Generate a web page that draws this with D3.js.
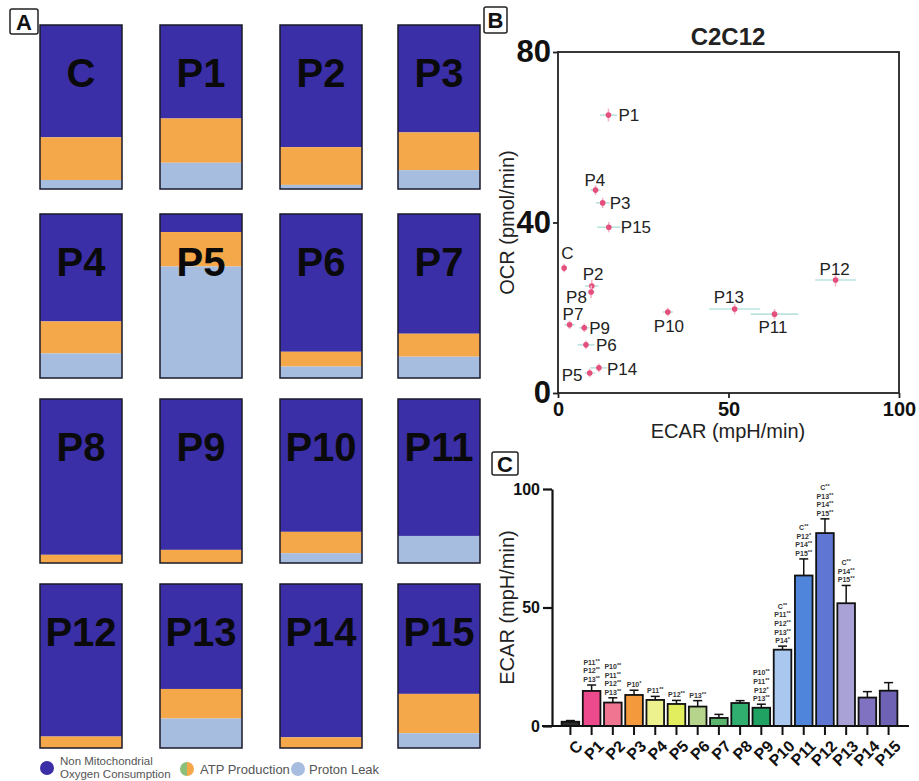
<!DOCTYPE html>
<html><head><meta charset="utf-8">
<script src="https://cdn.jsdelivr.net/npm/d3@7"></script>
<style>
body{margin:0;background:#fff;}
svg{display:block;font-family:"Liberation Sans",Arial,Helvetica,sans-serif;}
</style>
</head><body>
<svg id="fig" width="919" height="781"></svg>
<script>
// ---------- DATA ----------
const groups = ["C","P1","P2","P3","P4","P5","P6","P7","P8","P9","P10","P11","P12","P13","P14","P15"];
// Panel A: % of OCR
const nonMito    = [68.5, 57, 74.5, 65.5, 65.5, 11, 84, 73, 95, 92, 81, 83.5, 93, 64, 93.5, 67];
const atpProd    = [26, 27, 23, 23, 19.5, 21, 9, 14, 5, 8, 13, 0, 7, 18, 6.5, 24];
const protonLeak = [5.5, 16, 2.5, 11.5, 15, 68, 7, 13, 0, 0, 6, 16.5, 0, 18, 0, 9];
// Panel B / C
const ecarMean = [1.8, 14.8, 9.9, 13.1, 11.0, 9.3, 8.2, 3.4, 9.7, 7.7, 32.2, 63.5, 81.4, 51.8, 12.0, 14.9];
const ecarErr  = [0.5, 2.5, 2.0, 2.0, 1.5, 1.5, 2.5, 1.5, 1.0, 1.5, 1.5, 7.0, 6.0, 7.5, 2.5, 3.4];
const ocrMean  = [29.3, 65.2, 25.1, 44.6, 47.6, 4.7, 11.3, 16.0, 23.7, 15.3, 19.0, 18.5, 26.5, 19.7, 5.9, 38.9];
const ocrErr   = [1.0, 1.5, 1.5, 1.2, 1.2, 1.0, 1.0, 1.0, 1.5, 1.0, 1.0, 1.2, 1.5, 1.2, 1.0, 1.2];
const sigLabels = [[], ["P11**","P12**","P13**"], ["P10**","P11**","P12**","P13**"], ["P10*"], ["P11**"], ["P12**"], ["P13**"], [], [],
  ["P10**","P11**","P12*","P13**"], ["C**","P11**","P12**","P13**","P14*"], ["C**","P12*","P14**","P15**"],
  ["C**","P13**","P14**","P15**"], ["C**","P14**","P15**"], [], []];
const scatterXTicks = [0, 50, 100];
const scatterYTicks = [0, 40, 80];
const barYTicks = [0, 50, 100];
const legendItems = [["Non Mitochondrial","Oxygen Consumption"], ["ATP Production"], ["Proton Leak"]];

// ---------- STYLE / LAYOUT ----------
const colNon = "#3a2fa6", colAtp = "#f5a84a", colLeak = "#a6bde0";
const barColors = ["#2a2a2a","#ec4a8c","#ef7590","#f59a3c","#eef28e","#e2ee5e","#b6d48c","#5cb56c","#2fae70","#20a262",
  "#a9c7ef","#4f86dc","#5f77d2","#a9a2d6","#8072c0","#6e62b4"];
// label offsets (px) for scatter annotations: [dx, dy]
const labelOffsets = [[-3,-15],[10,0],[-9,-12],[7,0],[-11,-10],[-28,2],[10,0],[-7,-11],[-25,5],[5,0],[-14,14],[-16,13],[-16,-11],[-21,-12],[8,1],[12,0]];

const svg = d3.select("#fig");

function panelLabel(txt, x, y, w, h) {
  svg.append("rect").attr("x", x).attr("y", y).attr("width", w).attr("height", h)
    .attr("rx", 2).attr("fill", "#fff").attr("stroke", "#222").attr("stroke-width", 1.5);
  svg.append("text").attr("x", x + w/2).attr("y", y + h/2 + 8).attr("text-anchor","middle")
    .attr("font-size", 22).attr("font-weight","bold").attr("fill","#111").text(txt);
}

// ---------- PANEL A ----------
const tileW = 82, tileH = 164;
const colX = [40, 160, 280, 398];
const rowY = [25, 214, 399, 584];
const pct = d3.scaleLinear().domain([0, 100]).range([0, tileH]);
groups.forEach((g, i) => {
  const x0 = colX[i % 4], y0 = rowY[Math.floor(i / 4)];
  const gA = svg.append("g").attr("transform", `translate(${x0},${y0})`);
  const segs = [[nonMito[i], colNon], [atpProd[i], colAtp], [protonLeak[i], colLeak]];
  let acc = 0;
  segs.forEach(([v, c]) => {
    if (v > 0) gA.append("rect").attr("x", 0).attr("y", pct(acc)).attr("width", tileW).attr("height", pct(v)).attr("fill", c);
    acc += v;
  });
  gA.append("rect").attr("width", tileW).attr("height", tileH).attr("fill","none").attr("stroke","#1a1a2a").attr("stroke-width",1.5);
  gA.append("text").attr("x", tileW/2).attr("y", 62).attr("text-anchor","middle")
    .attr("font-size", 40).attr("font-weight","bold").attr("fill","#0a0a0a").text(g);
});
panelLabel("A", 10, 9, 28, 25);

// legend
const lg = svg.append("g").attr("font-size", 11.5).attr("fill", "#555");
lg.append("circle").attr("cx", 47).attr("cy", 768).attr("r", 7).attr("fill", colNon);
lg.append("text").attr("x", 60).attr("y", 765).text(legendItems[0][0]);
lg.append("text").attr("x", 60).attr("y", 778).text(legendItems[0][1]);
lg.append("path").attr("d", d3.arc()({innerRadius:0, outerRadius:7, startAngle:Math.PI, endAngle:2*Math.PI}))
  .attr("transform","translate(187,769)").attr("fill","#8cc07a");
lg.append("path").attr("d", d3.arc()({innerRadius:0, outerRadius:7, startAngle:0, endAngle:Math.PI}))
  .attr("transform","translate(187,769)").attr("fill",colAtp);
lg.append("text").attr("x", 200).attr("y", 774).attr("font-size", 13).text(legendItems[1][0]);
lg.append("circle").attr("cx", 298).attr("cy", 769).attr("r", 7).attr("fill", colLeak);
lg.append("text").attr("x", 309).attr("y", 774).attr("font-size", 13).text(legendItems[2][0]);

// ---------- PANEL B ----------
panelLabel("B", 484, 7, 23, 26);
const sx = d3.scaleLinear().domain([0, 100]).range([558, 899]);
const sy = d3.scaleLinear().domain([0, 80]).range([393, 52]);
svg.append("text").attr("x", 728).attr("y", 45).attr("text-anchor","middle").attr("font-size", 24)
  .attr("font-weight","bold").attr("fill","#222").text("C2C12");
svg.append("rect").attr("x", sx(0)).attr("y", sy(80)).attr("width", sx(100)-sx(0)).attr("height", sy(0)-sy(80))
  .attr("fill","none").attr("stroke","#222").attr("stroke-width",1.8);
const bxAxis = svg.append("g").attr("transform",`translate(0,${sy(0)})`)
  .call(d3.axisBottom(sx).tickValues(scatterXTicks).tickSize(5).tickPadding(4));
bxAxis.select(".domain").remove();
bxAxis.selectAll("line").attr("stroke","#222").attr("stroke-width",1.8);
bxAxis.selectAll("text").attr("font-size",20).attr("font-weight","bold").attr("fill","#111").attr("font-family","Liberation Sans, Arial");
const byAxis = svg.append("g").attr("transform",`translate(${sx(0)},0)`)
  .call(d3.axisLeft(sy).tickValues(scatterYTicks).tickSize(5).tickPadding(2));
byAxis.select(".domain").remove();
byAxis.selectAll("line").attr("stroke","#222").attr("stroke-width",1.8);
byAxis.selectAll("text").attr("font-size",31).attr("font-weight","bold").attr("fill","#111").attr("font-family","Liberation Sans, Arial");
svg.append("text").attr("x", 728).attr("y", 438).attr("text-anchor","middle").attr("font-size",20).attr("fill","#222").text("ECAR (mpH/min)");
svg.append("text").attr("transform",`translate(514,${sy(40)}) rotate(-90)`).attr("text-anchor","middle").attr("font-size",20).attr("fill","#222").text("OCR (pmol/min)");

const pts = svg.append("g");
groups.forEach((g, i) => {
  const cx = sx(ecarMean[i]), cy = sy(ocrMean[i]);
  pts.append("line").attr("x1", sx(ecarMean[i]-ecarErr[i])).attr("x2", sx(ecarMean[i]+ecarErr[i]))
    .attr("y1", cy).attr("y2", cy).attr("stroke","#b5e0dc").attr("stroke-width",1.6).attr("opacity",0.9);
  pts.append("line").attr("x1", cx).attr("x2", cx).attr("y1", sy(ocrMean[i]-ocrErr[i])).attr("y2", sy(ocrMean[i]+ocrErr[i]))
    .attr("stroke","#f2b4c6").attr("stroke-width",1.6);
  pts.append("circle").attr("cx", cx).attr("cy", cy).attr("r", 2.8).attr("fill","#e54f7c");
  pts.append("text").attr("x", cx + labelOffsets[i][0]).attr("y", cy + labelOffsets[i][1] + 6)
    .attr("font-size",17).attr("fill","#222").text(g);
});

// ---------- PANEL C ----------
panelLabel("C", 492, 452, 26, 23);
const bx = d3.scaleBand().domain(groups).range([558, 901]).padding(0.17);
const by = d3.scaleLinear().domain([0, 100]).range([726, 489]);
const yAxC = svg.append("g").attr("transform",`translate(552,0)`)
  .call(d3.axisLeft(by).tickValues(barYTicks).tickSize(9).tickPadding(3).tickSizeOuter(0));
yAxC.select(".domain").attr("stroke","#111").attr("stroke-width",2.2);
yAxC.selectAll(".tick line").attr("stroke","#111").attr("stroke-width",2.2);
yAxC.selectAll("text").attr("font-size",16).attr("font-weight","bold").attr("fill","#111").attr("font-family","Liberation Sans, Arial");

const bars = svg.append("g");
groups.forEach((g, i) => {
  const x0 = bx(g), w = bx.bandwidth(), xc = x0 + w/2;
  const top = by(ecarMean[i]), cap = by(ecarMean[i] + ecarErr[i]);
  bars.append("line").attr("x1", xc).attr("x2", xc).attr("y1", top).attr("y2", cap).attr("stroke","#111").attr("stroke-width",1.5);
  bars.append("line").attr("x1", xc-4.5).attr("x2", xc+4.5).attr("y1", cap).attr("y2", cap).attr("stroke","#111").attr("stroke-width",1.5);
  bars.append("rect").attr("x", x0).attr("y", top).attr("width", w).attr("height", by(0)-top)
    .attr("fill", barColors[i]).attr("stroke","#111").attr("stroke-width",1.8);
  const labs = sigLabels[i];
  labs.forEach((s, k) => {
    const yy = cap - 3 - (labs.length - 1 - k) * 8.6;
    const t = bars.append("text").attr("x", xc).attr("y", yy).attr("text-anchor","middle")
      .attr("font-size", 7).attr("font-weight","bold").attr("fill","#333");
    const base = s.replace(/\*+$/, ""), stars = s.slice(base.length);
    t.append("tspan").text(base);
    t.append("tspan").attr("font-size", 5.5).attr("dy", -2).text(stars);
  });
});
// x axis
svg.append("line").attr("x1", 542).attr("x2", 909).attr("y1", by(0)).attr("y2", by(0)).attr("stroke","#111").attr("stroke-width",2.2);
const xAxC = svg.append("g").attr("transform",`translate(0,${by(0)})`)
  .call(d3.axisBottom(bx).tickSize(9).tickPadding(4).tickSizeOuter(0));
xAxC.select(".domain").remove();
xAxC.selectAll(".tick line").attr("stroke","#111").attr("stroke-width",2);
xAxC.selectAll("text").attr("font-size",16).attr("font-weight","bold").attr("fill","#111").attr("font-family","Liberation Sans, Arial")
  .attr("text-anchor","end").attr("dy", "0.35em").attr("transform","translate(0,8) rotate(-45)");
svg.append("text").attr("transform",`translate(514,${by(50)}) rotate(-90)`).attr("text-anchor","middle").attr("font-size",20).attr("fill","#222").text("ECAR (mpH/min)");
</script>
</body></html>
